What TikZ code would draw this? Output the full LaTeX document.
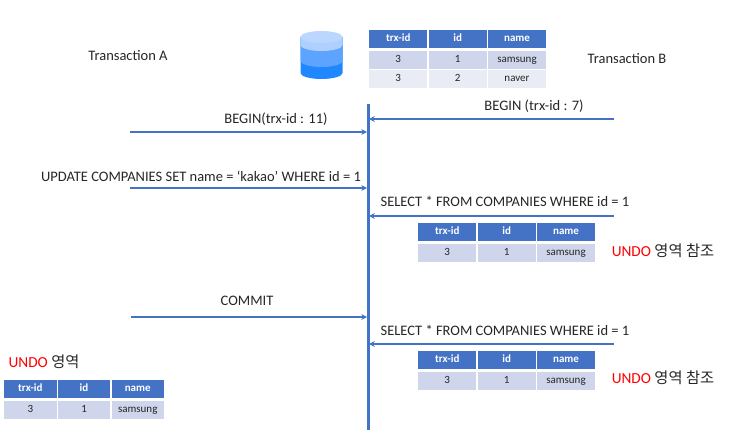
\documentclass[tikz,border=0pt]{standalone}
\usepackage{fontspec}
\setmainfont{Carlito}
\newfontfamily\krfont{Noto Sans CJK KR}
\usetikzlibrary{arrows.meta,positioning}
\definecolor{hdblue}{HTML}{4472C4}
\definecolor{rowa}{HTML}{CFD5EA}
\definecolor{rowb}{HTML}{E9EBF5}
\definecolor{dbtop}{HTML}{BBD6FF}
\definecolor{dblight}{HTML}{AFCFFF}
\definecolor{dbmid}{HTML}{5CA4FF}
\definecolor{dbdark}{HTML}{1F87FF}
\tikzset{
  >={Stealth[length=2mm,width=2mm]},
  every node/.style={text=black!85},
  msg/.style ={font=\fontsize{14.5}{17}\selectfont, inner sep=0pt},
  undo/.style={font=\fontsize{15.3}{18}\selectfont, inner sep=0pt},
  cell/.style={minimum height=18pt, inner sep=0pt, text height=7pt, text depth=2pt,
    font=\fontsize{11}{13}\selectfont},
  thead/.style={cell, fill=hdblue, text=white, font=\fontsize{11}{13}\bfseries\selectfont},
  rowone/.style={cell, fill=rowa},
  rowtwo/.style={cell, fill=rowb},
  wire/.style={draw=hdblue, line width=1.8pt},
  call/.style={wire, ->}
}
\newcommand{\undolabel}[1]{{\color{red}UNDO} {\krfont #1}}
% header and first row of a table: name, left, top, column width
\newcommand{\trxtable}[7]{
  \node[thead, anchor=north west, minimum width=#4pt] (#1h1) at (#2,#3) {trx-id};
  \node[thead, minimum width=#4pt, right=1pt of #1h1] (#1h2) {id};
  \node[thead, minimum width=#4pt, right=1pt of #1h2] (#1h3) {name};
  \node[rowone, minimum width=#4pt, below=2pt of #1h1] (#1a1) {#5};
  \node[rowone, minimum width=#4pt, below=2pt of #1h2] (#1a2) {#6};
  \node[rowone, minimum width=#4pt, below=2pt of #1h3] (#1a3) {#7};
}

\begin{document}
\begin{tikzpicture}[x=1pt, y=-1pt]
\useasboundingbox (0,0) rectangle (740,430);

% database icon
\fill[dbdark] (300.5,37) -- (300.5,73) arc[x radius=21, y radius=6, start angle=180, end angle=0] -- (342.5,37) -- cycle;
\fill[dbmid] (300.5,37) -- (300.5,61) arc[x radius=21, y radius=6, start angle=180, end angle=0] -- (342.5,37) -- cycle;
\fill[dblight] (300.5,37) -- (300.5,45) arc[x radius=21, y radius=6, start angle=180, end angle=0] -- (342.5,37) -- cycle;
\fill[dbtop] (321.5,37) ellipse[x radius=21, y radius=6];

% tables
\trxtable{top}{369}{30}{58}{3}{1}{samsung}
\node[rowtwo, minimum width=58pt, below=1pt of topa1] (topb1) {3};
\node[rowtwo, minimum width=58pt, below=1pt of topa2] (topb2) {2};
\node[rowtwo, minimum width=58pt, below=1pt of topa3] (topb3) {naver};
\trxtable{mid}{418}{223}{58}{3}{1}{samsung}
\trxtable{low}{418}{351}{58}{3}{1}{samsung}
\trxtable{old}{4}{380}{52.3}{3}{1}{samsung}

% titles
\node[msg] (txa) at (128,56) {Transaction A};
\node[msg] (txb) at (627,59) {Transaction B};

% timeline
\coordinate (axtop) at (368,104);
\coordinate (axbot) at (368,430);
\draw[wire, line width=3pt] (axtop) -- (axbot);

% messages of A
\coordinate (a1) at (130,132);  \coordinate (a1e) at (367,132);
\coordinate (a2) at (130,188);  \coordinate (a2e) at (367,188);
\coordinate (a3) at (131,317);  \coordinate (a3e) at (367,317);
\draw[call] (a1) -- (a1e);
\draw[call] (a2) -- (a2e);
\draw[call] (a3) -- (a3e);
\node[msg] (m1) at (276,119) {BEGIN(trx-id : 11)};
\node[msg] (m2) at (201,176) {UPDATE COMPANIES SET name = ‘kakao’ WHERE id = 1};
\node[msg] (m3) at (247,301) {COMMIT};

% messages of B
\coordinate (b1) at (614,119);  \coordinate (b1e) at (369,119);
\coordinate (b2) at (614,216);  \coordinate (b2e) at (369,216);
\coordinate (b3) at (614,344);  \coordinate (b3e) at (369,344);
\draw[call] (b1) -- (b1e);
\draw[call] (b2) -- (b2e);
\draw[call] (b3) -- (b3e);
\node[msg] (n1) at (534,106) {BEGIN (trx-id : 7)};
\node[msg] (n2) at (505,201) {SELECT * FROM COMPANIES WHERE id = 1};
\node[msg] (n3) at (505,330) {SELECT * FROM COMPANIES WHERE id = 1};

% undo labels
\node[undo] (u1) at (663,251) {\undolabel{영역 참조}};
\node[undo] (u2) at (663,378) {\undolabel{영역 참조}};
\node[undo] (u3) at (44,362) {\undolabel{영역}};
\end{tikzpicture}
\end{document}
